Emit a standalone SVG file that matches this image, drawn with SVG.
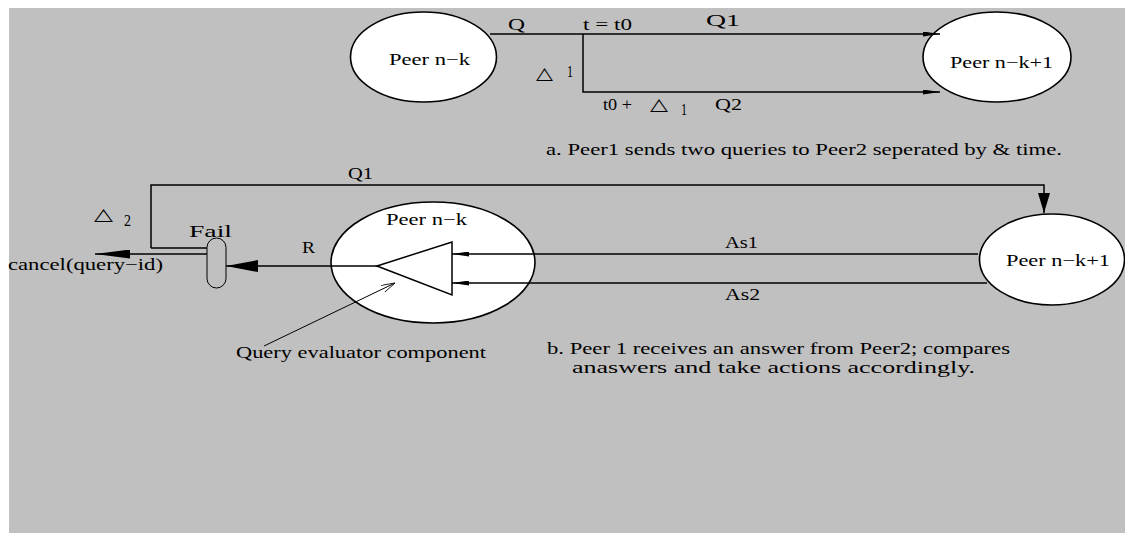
<svg xmlns="http://www.w3.org/2000/svg" width="1125" height="533" viewBox="0 0 1125 533">
<style>
  .bg { fill: #c0c0c0; }
  .peer { fill: #ffffff; stroke: #000000; stroke-width: 1.6; }
  .ln { fill: none; stroke: #000000; stroke-width: 1.5; }
  .thin { fill: none; stroke: #000000; stroke-width: 1; }
  .t { font-family: "Liberation Serif", "Times New Roman", serif; font-size: 16px; fill: #000000; }
  .sym { font-family: "DejaVu Sans", sans-serif; font-size: 17px; fill: #000000; }
  .fail { fill: #c0c0c0; stroke: #000000; stroke-width: 1; }
</style>
<defs>
  <marker id="aSlim" markerUnits="userSpaceOnUse" viewBox="0 0 17 5" markerWidth="17" markerHeight="5" refX="17" refY="2.5" orient="auto">
    <path d="M0,0 L17,2.5 L0,5 Z" fill="#000000"/>
  </marker>
  <marker id="aR" markerUnits="userSpaceOnUse" viewBox="0 0 32 12" markerWidth="32" markerHeight="12" refX="32" refY="6" orient="auto">
    <path d="M0,0 L32,6 L0,12 Z" fill="#000000"/>
  </marker>
  <marker id="aCancel" markerUnits="userSpaceOnUse" viewBox="0 0 35 9" markerWidth="35" markerHeight="9" refX="35" refY="4.5" orient="auto">
    <path d="M0,0 L35,4.5 L0,9 Z" fill="#000000"/>
  </marker>
  <marker id="aDown" markerUnits="userSpaceOnUse" viewBox="0 0 20 12" markerWidth="20" markerHeight="12" refX="20" refY="6" orient="auto">
    <path d="M0,0 L20,6 L0,12 Z" fill="#000000"/>
  </marker>
  <marker id="aOpen" markerUnits="userSpaceOnUse" viewBox="0 0 14 8" markerWidth="14" markerHeight="8" refX="14" refY="4" orient="auto">
    <path d="M0,0 L14,4 L0,8" fill="none" stroke="#000000" stroke-width="0.8"/>
  </marker>
</defs>

<rect class="bg" x="9" y="8" width="1116" height="525"/>

<!-- Part a -->
<g id="peer-a-left">
  <ellipse class="peer" cx="423.5" cy="57" rx="73" ry="45"/>
  <text class="t" x="389" y="64.5" textLength="81" lengthAdjust="spacingAndGlyphs">Peer n−k</text>
</g>
<g id="peer-a-right">
  <ellipse class="peer" cx="997" cy="57" rx="74" ry="45"/>
  <text class="t" x="950" y="68" textLength="103" lengthAdjust="spacingAndGlyphs">Peer n−k+1</text>
</g>

<!-- Part b -->
<g id="peer-b-left">
  <ellipse class="peer" cx="433" cy="262.5" rx="102" ry="60.5"/>
  <text class="t" x="386" y="225" textLength="81" lengthAdjust="spacingAndGlyphs">Peer n−k</text>
  <polygon id="query-evaluator" points="377,266 452,242 452,295" fill="none" stroke="#000000" stroke-width="1.5"/>
</g>
<g id="peer-b-right">
  <ellipse class="peer" cx="1052" cy="259.5" rx="72.5" ry="45.5"/>
  <text class="t" x="1006" y="266" textLength="104" lengthAdjust="spacingAndGlyphs">Peer n−k+1</text>
</g>
<g id="fail">
  <rect class="fail" x="207" y="238" width="19" height="50" rx="9.5" ry="9.5"/>
  <text class="t" x="189" y="237" font-size="17" textLength="43" lengthAdjust="spacingAndGlyphs">Fail</text>
</g>

<g id="connectors">
  <!-- part a -->
  <path class="ln" d="M490,34 L940,34" marker-end="url(#aSlim)"/>
  <path class="ln" d="M583,34 L583,92 L940,92" marker-end="url(#aSlim)"/>
  <!-- part b -->
  <path class="ln" d="M151,248 L151,185 L1044,185 L1044,213" marker-end="url(#aDown)"/>
  <path class="ln" d="M151,248 L207,248"/>
  <path class="ln" d="M207,254 L95,254" marker-end="url(#aCancel)"/>
  <path class="ln" d="M377,266 L226,266" marker-end="url(#aR)"/>
  <path class="ln" d="M978,254 L452,254" marker-end="url(#aSlim)"/>
  <path class="ln" d="M987,283 L452,283" marker-end="url(#aSlim)"/>
  <path class="thin" d="M264,346 L395,283" marker-end="url(#aOpen)"/>
</g>

<g id="labels">
  <text class="t" x="508" y="29.5" textLength="17" lengthAdjust="spacingAndGlyphs">Q</text>
  <text class="t" x="583" y="29.5" textLength="49" lengthAdjust="spacingAndGlyphs">t = t0</text>
  <text class="t" x="706" y="26" textLength="34" lengthAdjust="spacingAndGlyphs">Q1</text>
  <text class="sym" x="536" y="79" textLength="17" lengthAdjust="spacingAndGlyphs">△</text>
  <text class="t" x="567" y="77" textLength="6" lengthAdjust="spacingAndGlyphs">1</text>
  <text class="t" x="603" y="110" textLength="29" lengthAdjust="spacingAndGlyphs">t0 +</text>
  <text class="sym" x="650" y="110" textLength="18" lengthAdjust="spacingAndGlyphs">△</text>
  <text class="t" x="681" y="115" textLength="6" lengthAdjust="spacingAndGlyphs">1</text>
  <text class="t" x="715" y="110" textLength="27" lengthAdjust="spacingAndGlyphs">Q2</text>
  <text class="t" x="546" y="155" textLength="516" lengthAdjust="spacingAndGlyphs">a.  Peer1 sends two queries to Peer2 seperated by &amp; time.</text>

  <text class="t" x="348" y="179" textLength="25" lengthAdjust="spacingAndGlyphs">Q1</text>
  <text class="sym" x="94" y="220" textLength="19" lengthAdjust="spacingAndGlyphs">△</text>
  <text class="t" x="124" y="226" textLength="7" lengthAdjust="spacingAndGlyphs">2</text>
  <text class="t" x="8" y="270" textLength="155" lengthAdjust="spacingAndGlyphs">cancel(query−id)</text>
  <text class="t" x="302" y="253" textLength="13" lengthAdjust="spacingAndGlyphs">R</text>
  <text class="t" x="725" y="248" textLength="33" lengthAdjust="spacingAndGlyphs">As1</text>
  <text class="t" x="725" y="300" textLength="35" lengthAdjust="spacingAndGlyphs">As2</text>
  <text class="t" x="236" y="358" textLength="250" lengthAdjust="spacingAndGlyphs">Query evaluator component</text>
  <text class="t" x="547" y="354" textLength="463" lengthAdjust="spacingAndGlyphs">b. Peer 1 receives an answer from Peer2;  compares</text>
  <text class="t" x="572" y="373" textLength="403" lengthAdjust="spacingAndGlyphs">anaswers and take actions accordingly.</text>
</g>
</svg>
